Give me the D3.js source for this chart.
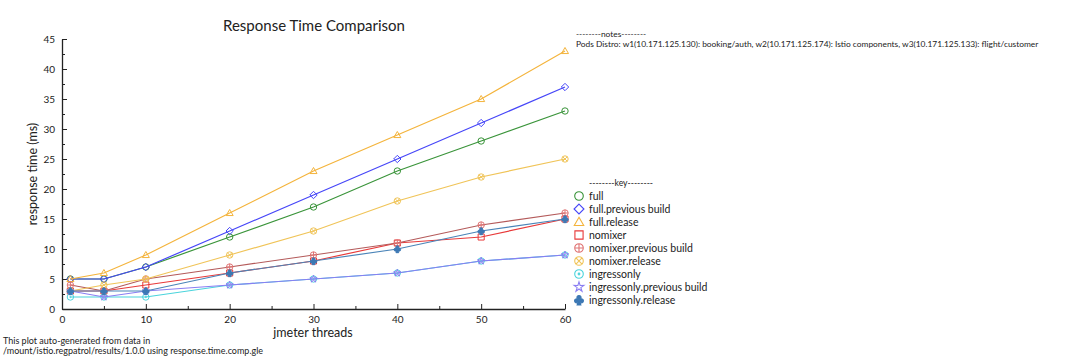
<!DOCTYPE html>
<html>
<head>
<meta charset="utf-8">
<script src="https://cdn.jsdelivr.net/npm/d3@7"></script>
<style>
  body { margin: 0; background: #fff; }
  svg { display: block; font-family: "Lato", "DejaVu Sans", sans-serif; }
  .axis path, .axis line { stroke: #222; }
  .axis text { font-size: 10px; fill: #222; font-family: "Lato", sans-serif; }
</style>
</head>
<body>
<svg id="chart" width="1080" height="363"></svg>
<script>
// -----------------------------------------------------------------------------

var threads = [1, 5, 10, 20, 30, 40, 50, 60];

var full = [5, 5, 7, 12, 17, 23, 28, 33];
var fullPrevious = [5, 5, 7, 13, 19, 25, 31, 37];
var fullRelease = [5, 6, 9, 16, 23, 29, 35, 43];
var nomixer = [3, 3, 4, 6, 8, 11, 12, 15];
var nomixerPrevious = [4, 3, 5, 7, 9, 11, 14, 16];
var nomixerRelease = [3, 4, 5, 9, 13, 18, 22, 25];
var ingressonly = [2, 2, 2, 4, 5, 6, 8, 9];
var ingressonlyPrevious = [3, 2, 3, 4, 5, 6, 8, 9];
var ingressonlyRelease = [3, 3, 3, 6, 8, 10, 13, 15];

var seriesNames = [
  'full', 'full.previous build', 'full.release',
  'nomixer', 'nomixer.previous build', 'nomixer.release',
  'ingressonly', 'ingressonly.previous build', 'ingressonly.release'
];
var seriesValues = [
  full, fullPrevious, fullRelease,
  nomixer, nomixerPrevious, nomixerRelease,
  ingressonly, ingressonlyPrevious, ingressonlyRelease
];
var seriesColors = [
  '#3a943a', '#4646f8', '#f4b43c',
  '#e83a3a', '#b45a5a', '#f0c458',
  '#4ad4dc', '#8a7ef2', '#4a84b8'
];
var seriesMarkerColors = [
  '#3a943a', '#4646f8', '#f4b43c',
  '#e83a3a', '#e07474', '#f0c458',
  '#4ad4dc', '#8a7ef2', '#3c78b4'
];

var xTicks = [0, 10, 20, 30, 40, 50, 60];
var xMinorTicks = [5, 15, 25, 35, 45, 55];
var yTicks = [0, 5, 10, 15, 20, 25, 30, 35, 40, 45];
var yMinorTicks = [2.5, 7.5, 12.5, 17.5, 22.5, 27.5, 32.5, 37.5, 42.5];

var noteLines = [
  '--------notes--------',
  'Pods Distro: w1(10.171.125.130): booking/auth, w2(10.171.125.174): Istio components, w3(10.171.125.133): flight/customer'
];
var footerLines = [
  'This plot auto-generated from data in',
  '/mount/istio.regpatrol/results/1.0.0 using response.time.comp.gle'
];

// -----------------------------------------------------------------------------
// marker shapes, r = half width

function circleWith(extra) {
  return function (ctx, r) {
    ctx.moveTo(r, 0);
    ctx.arc(0, 0, r, 0, 2 * Math.PI);
    if (extra) extra(ctx, r);
  };
}

function polygon(pts) {
  return function (ctx, r) {
    pts.forEach(function (p, i) {
      if (i === 0) ctx.moveTo(p[0] * r, p[1] * r);
      else ctx.lineTo(p[0] * r, p[1] * r);
    });
    ctx.closePath();
  };
}

var starPts = d3.range(10).map(function (i) {
  var a = -Math.PI / 2 + i * Math.PI / 5;
  var rr = i % 2 === 0 ? 1.2 : 0.45;
  return [rr * Math.cos(a), rr * Math.sin(a)];
});

var drawCircle = circleWith(null);
var drawDiamond = polygon([[0, -1.15], [1.15, 0], [0, 1.15], [-1.15, 0]]);
var drawTriangle = polygon([[0, -1.1], [1.1, 0.8], [-1.1, 0.8]]);
var drawSquare = polygon([[-0.95, -0.95], [0.95, -0.95], [0.95, 0.95], [-0.95, 0.95]]);
var drawCirclePlus = circleWith(function (ctx, r) {
  ctx.moveTo(-r, 0); ctx.lineTo(r, 0);
  ctx.moveTo(0, -r); ctx.lineTo(0, r);
});
var drawCircleX = circleWith(function (ctx, r) {
  var k = r * 0.707;
  ctx.moveTo(-k, -k); ctx.lineTo(k, k);
  ctx.moveTo(-k, k); ctx.lineTo(k, -k);
});
var drawCircleDot = circleWith(function (ctx, r) {
  var d = r * 0.2;
  ctx.moveTo(d, 0);
  ctx.arc(0, 0, d, 0, 2 * Math.PI);
});
var drawStar = polygon(starPts);
var drawClub = function (ctx, r) {
  var c = r * 0.48;
  [[0, -1.15 * c], [-1.15 * c, 0.4 * c], [1.15 * c, 0.4 * c]].forEach(function (p) {
    ctx.moveTo(p[0] + c, p[1]);
    ctx.arc(p[0], p[1], c, 0, 2 * Math.PI);
  });
  ctx.moveTo(0, 0);
  ctx.lineTo(-0.9 * c, 2.4 * c);
  ctx.lineTo(0.9 * c, 2.4 * c);
  ctx.closePath();
};

var seriesDraws = [
  drawCircle, drawDiamond, drawTriangle,
  drawSquare, drawCirclePlus, drawCircleX,
  drawCircleDot, drawStar, drawClub
];
var seriesFilled = [false, false, false, false, false, false, false, false, true];

function markerPath(draw, r) {
  var p = d3.path();
  draw(p, r);
  return p.toString();
}

// -----------------------------------------------------------------------------

var svg = d3.select('#chart');

var x = d3.scaleLinear().domain([0, 60]).range([62, 565]);
var y = d3.scaleLinear().domain([0, 45]).range([309, 39]);

// - - - - - - - - - - - - - - - - - - - - - - - - - - - - - - - - - - - - - -

svg.append('g')
  .attr('class', 'axis')
  .attr('transform', 'translate(0,' + y(0) + ')')
  .call(d3.axisBottom(x).tickValues(xTicks).tickSize(-5).tickSizeOuter(0).tickPadding(7));
svg.append('g')
  .attr('class', 'axis')
  .attr('transform', 'translate(0,' + y(0) + ')')
  .call(d3.axisBottom(x).tickValues(xMinorTicks).tickSize(-3).tickSizeOuter(0).tickFormat(''))
  .select('.domain').remove();

svg.append('g')
  .attr('class', 'axis')
  .attr('transform', 'translate(' + x(0) + ',0)')
  .call(d3.axisLeft(y).tickValues(yTicks).tickSize(-5).tickSizeOuter(0).tickPadding(7));
svg.append('g')
  .attr('class', 'axis')
  .attr('transform', 'translate(' + x(0) + ',0)')
  .call(d3.axisLeft(y).tickValues(yMinorTicks).tickSize(-3).tickSizeOuter(0).tickFormat(''))
  .select('.domain').remove();

svg.selectAll('.axis path.domain').attr('stroke-width', 1.3);

// - - - - - - - - - - - - - - - - - - - - - - - - - - - - - - - - - - - - - -

var line = d3.line()
  .x(function (d) { return x(d[0]); })
  .y(function (d) { return y(d[1]); });

var series = seriesNames.map(function (name, i) {
  return {
    name: name,
    color: seriesColors[i],
    markerColor: seriesMarkerColors[i],
    draw: seriesDraws[i],
    filled: seriesFilled[i],
    points: threads.map(function (t, j) { return [t, seriesValues[i][j]]; })
  };
});

var gSeries = svg.append('g')
  .selectAll('g')
  .data(series)
  .join('g');

gSeries.append('path')
  .attr('d', function (d) { return line(d.points); })
  .attr('fill', 'none')
  .attr('stroke', function (d) { return d.color; })
  .attr('stroke-width', 1.2);

gSeries.selectAll('path.mark')
  .data(function (d) {
    return d.points.map(function (p) { return { p: p, s: d }; });
  })
  .join('path')
  .attr('class', 'mark')
  .attr('transform', function (d) {
    return 'translate(' + x(d.p[0]) + ',' + y(d.p[1]) + ')';
  })
  .attr('d', function (d) { return markerPath(d.s.draw, 3.2); })
  .attr('fill', function (d) { return d.s.filled ? d.s.markerColor : 'none'; })
  .attr('stroke', function (d) { return d.s.markerColor; })
  .attr('stroke-width', 1);

// - - - - - - - - - - - - - - - - - - - - - - - - - - - - - - - - - - - - - -

svg.append('text')
  .attr('x', 314)
  .attr('y', 31)
  .attr('text-anchor', 'middle')
  .attr('font-size', 15)
  .attr('fill', '#222')
  .text('Response Time Comparison');

svg.append('text')
  .attr('transform', 'translate(37,' + y(22.5) + ') rotate(-90)')
  .attr('text-anchor', 'middle')
  .attr('font-size', 12.5)
  .attr('fill', '#222')
  .text('response time (ms)');

svg.append('text')
  .attr('x', 313)
  .attr('y', 337)
  .attr('text-anchor', 'middle')
  .attr('font-size', 12.5)
  .attr('fill', '#222')
  .text('jmeter threads');

svg.append('g')
  .selectAll('text')
  .data(footerLines)
  .join('text')
  .attr('x', 3)
  .attr('y', function (d, i) { return 344 + i * 10; })
  .attr('font-size', 9)
  .attr('fill', '#222')
  .text(function (d) { return d; });

svg.append('g')
  .selectAll('text')
  .data(noteLines)
  .join('text')
  .attr('x', 576)
  .attr('y', function (d, i) { return 37 + i * 9.5; })
  .attr('font-size', 8.4)
  .attr('fill', '#222')
  .text(function (d) { return d; });

// - - - - - - - - - - - - - - - - - - - - - - - - - - - - - - - - - - - - - -

var legend = svg.append('g');

legend.append('text')
  .attr('x', 589)
  .attr('y', 186)
  .attr('font-size', 8.6)
  .attr('fill', '#222')
  .text('--------key--------');

var legendItem = legend.selectAll('g.item')
  .data(series)
  .join('g')
  .attr('class', 'item')
  .attr('transform', function (d, i) {
    return 'translate(579,' + (196 + i * 13) + ')';
  });

legendItem.append('path')
  .attr('d', function (d) { return markerPath(d.draw, 4.3); })
  .attr('fill', function (d) { return d.filled ? d.markerColor : 'none'; })
  .attr('stroke', function (d) { return d.markerColor; })
  .attr('stroke-width', 1.1);

legendItem.append('text')
  .attr('x', 10)
  .attr('y', 4)
  .attr('font-size', 10.5)
  .attr('fill', '#222')
  .text(function (d) { return d.name; });

// -----------------------------------------------------------------------------
</script>
</body>
</html>
